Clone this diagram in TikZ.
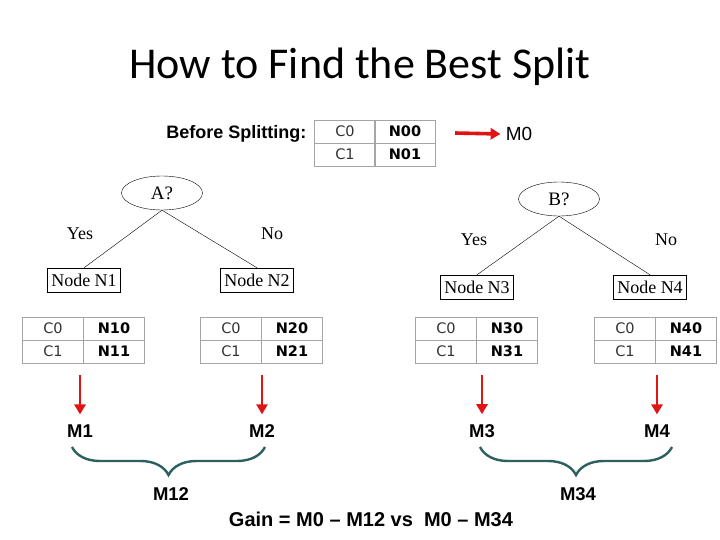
\documentclass[tikz,border=0pt]{standalone}
\usepackage{fontspec}
\setmainfont{Liberation Serif}
\setsansfont{Liberation Sans}
\newfontfamily\titlefont{Carlito}
\newfontfamily\tablefont{DejaVu Sans}
\usetikzlibrary{shapes.geometric,decorations.pathreplacing,arrows.meta,calc}
\definecolor{bracegreen}{RGB}{45,95,95}
\definecolor{gridgray}{RGB}{165,165,165}
\definecolor{arrowred}{RGB}{225,20,20}
\definecolor{cellgray}{RGB}{50,50,50}

\tikzset{
  cell/.style={draw=gridgray, line width=0.8pt, minimum width=61pt, minimum height=23pt,
    inner sep=0pt, font=\tablefont\fontsize{14.5}{17}\selectfont},
  cellbold/.style={cell, font=\tablefont\bfseries\fontsize{14.5}{17}\selectfont},
  testnode/.style={ellipse, draw, minimum width=81pt, minimum height=34pt, inner sep=0pt,
    font=\fontsize{19}{22}\selectfont},
  treebox/.style={draw, minimum width=73pt, minimum height=24pt, inner sep=0pt,
    font=\fontsize{18}{21}\selectfont},
  branch/.style={font=\fontsize{18}{21}\selectfont},
  redarrow/.style={arrowred, line width=2.8pt, -{Triangle[length=10pt,width=11pt]}},
  mlabel/.style={font=\sffamily\bfseries\fontsize{18.5}{22}\selectfont, inner sep=0pt},
  splitbrace/.style={bracegreen, line width=2.4pt,
    decorate, decoration={brace, mirror, amplitude=28pt}}
}

\begin{document}
\begin{tikzpicture}[x=1pt,y=-1pt]
    \useasboundingbox (0,0) rectangle (720,540);
    % Title
    \node[font=\titlefont\fontsize{44}{50}\selectfont] (title) at (360,67) {How to Find the Best Split};
    % Before splitting
    \node[font=\sffamily\bfseries\fontsize{18}{21}\selectfont, anchor=east] (before) at (310,134) {Before Splitting:};
    \node[cell, text=cellgray] (t0c0) at (345,131.5) {C0};
    \node[cellbold] (t0n0) at (405,131.5) {N00};
    \node[cell, text=cellgray] (t0c1) at (345,154.5) {C1};
    \node[cellbold] (t0n1) at (405,154.5) {N01};
    \coordinate (m0tail) at (455,133);
    \node[mlabel, font=\sffamily\fontsize{19}{22}\selectfont] (m0) at (519,134) {M0};
    \draw[redarrow, line width=3.6pt] (m0tail) -- ([xshift=-5pt]m0.west);
    % Split on A
    \node[testnode] (A) at (162,193) {A?};
    \node[treebox] (n1) at (84,280) {Node N1};
    \node[treebox] (n2) at (257,280) {Node N2};
    \draw (A.south) -- (n1.north);
    \draw (A.south) -- (n2.north);
    \node[branch] (yesA) at (80,234) {Yes};
    \node[branch] (noA) at (272,234) {No};
    % Split on B
    \node[testnode] (B) at (559,199) {B?};
    \node[treebox] (n3) at (477,287) {Node N3};
    \node[treebox] (n4) at (650,287) {Node N4};
    \draw (B.south) -- (n3.north);
    \draw (B.south) -- (n4.north);
    \node[branch] (yesB) at (474,240) {Yes};
    \node[branch] (noB) at (666,240) {No};
    % Tables, arrows and measures of the child nodes
    \foreach \i/\x/\mx in {1/22/80,2/200/262,3/415/482,4/594/657}{
      \node[cell, text=cellgray] (t\i c0) at ({\x+31},328.5) {C0};
      \node[cellbold] (t\i n0) at ({\x+92},328.5) {N\i0};
      \node[cell, text=cellgray] (t\i c1) at ({\x+31},351.5) {C1};
      \node[cellbold] (t\i n1) at ({\x+92},351.5) {N\i1};
      \node[mlabel] (m\i) at (\mx,431) {M\i};
      \coordinate (a\i) at (\mx,375);
      \draw[redarrow] (a\i) -- ([yshift=10pt]m\i.north);
    }
    % Combined measures
    \coordinate (b1s) at (72,447);
    \coordinate (b1e) at (265,447);
    \coordinate (b2s) at (480,447);
    \coordinate (b2e) at (672,447);
    \draw[splitbrace] (b1s) -- (b1e);
    \draw[splitbrace] (b2s) -- (b2e);
    \node[mlabel] (m12) at (171,494) {M12};
    \node[mlabel] (m34) at (578,494) {M34};
    \node[font=\sffamily\bfseries\fontsize{20}{23}\selectfont] (gain) at (371,519) {Gain = M0 -- M12 vs\ \ M0 -- M34};
\end{tikzpicture}
\end{document}
